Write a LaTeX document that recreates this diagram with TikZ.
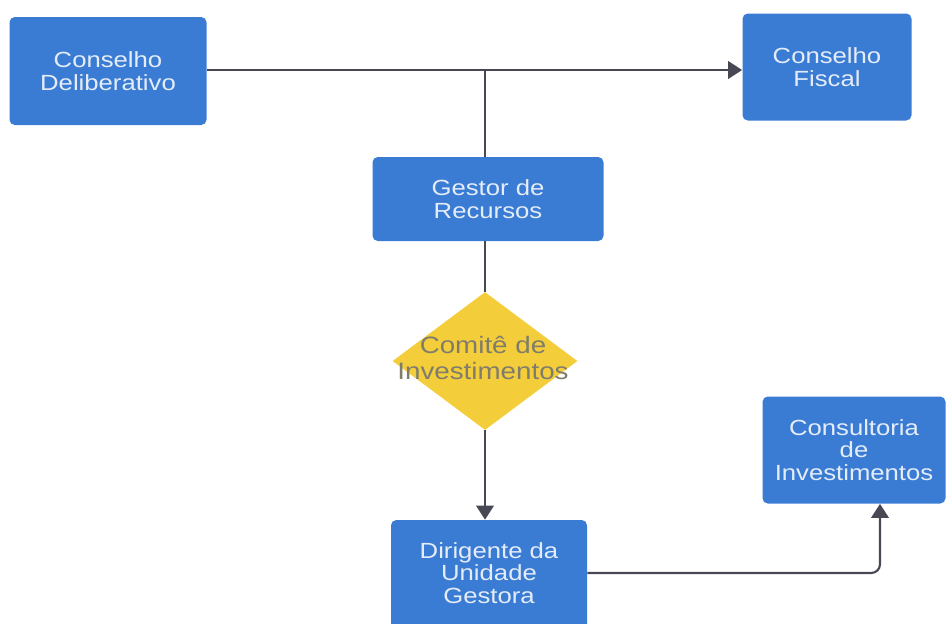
\documentclass[tikz,border=0pt]{standalone}
\usepackage{fontspec}
\setmainfont[FakeStretch=1.17]{Liberation Sans}
\usetikzlibrary{shapes.geometric,arrows.meta}
\definecolor{boxblue}{RGB}{58,124,212}
\definecolor{boxtext}{RGB}{228,236,248}
\definecolor{diayellow}{RGB}{244,206,58}
\definecolor{diatext}{RGB}{128,124,108}
\definecolor{linecol}{RGB}{72,72,84}
\tikzset{
  bluebox/.style={draw=none, fill=boxblue, rounded corners=3pt, text=boxtext, align=center,
    font=\fontsize{12.5}{13}\selectfont, inner sep=0pt},
  decision/.style={diamond, draw=none, fill=diayellow, inner sep=0pt, aspect=1.34},
  conn/.style={draw=linecol, line width=1.2pt},
  arr/.style={conn, -{Triangle[width=10pt,length=8pt]}}
}
\begin{document}
\begin{tikzpicture}[x=0.02cm, y=-0.02cm]
\useasboundingbox (0,0) rectangle (952,623);
\node[bluebox, minimum width=197*0.02cm, minimum height=108*0.02cm] (delib) at (108,71) {Conselho\\Deliberativo};
\node[bluebox, minimum width=169*0.02cm, minimum height=107*0.02cm] (fiscal) at (827,67) {Conselho\\Fiscal};
\node[bluebox, minimum width=231*0.02cm, minimum height=84*0.02cm] (gestor) at (488,199) {Gestor de\\Recursos};
\node[decision, minimum width=185*0.02cm, minimum height=138*0.02cm] (comite) at (485,361) {};
\node[text=diatext, align=center, font=\fontsize{13.5}{14.5}\selectfont, inner sep=0pt] (comitetext) at (483,358) {Comitê de\\Investimentos};
\node[bluebox, minimum width=196*0.02cm, minimum height=112*0.02cm] (dirig) at (489,576) {};
\node[text=boxtext, align=center, font=\fontsize{12.5}{13}\selectfont, inner sep=0pt] (dirigtext) at (489,573) {Dirigente da\\Unidade\\Gestora};
\node[bluebox, minimum width=183*0.02cm, minimum height=107*0.02cm] (consult) at (854,450) {Consultoria\\de\\Investimentos};
\coordinate (junc) at (485,70);
\coordinate (turn) at (880,573);
\draw[arr] (delib.east |- junc) -- (fiscal.west |- junc);
\draw[conn] (junc) -- (junc |- gestor.north);
\draw[conn] (comite.north |- gestor.south) -- (comite.north);
\draw[arr] (comite.south) -- (comite.south |- dirig.north);
\draw[arr, rounded corners=5pt] (dirig.east |- turn) -- (turn) -- (turn |- consult.south);
\end{tikzpicture}
\end{document}
